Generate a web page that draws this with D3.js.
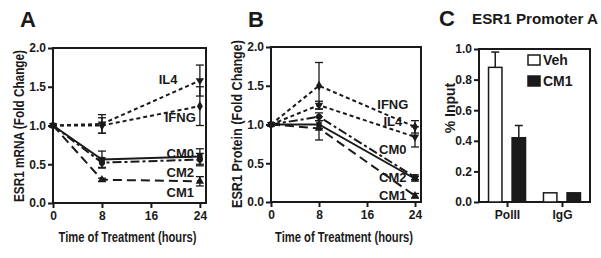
<!DOCTYPE html>
<html>
<head>
<meta charset="utf-8">
<script src="https://cdn.jsdelivr.net/npm/d3@7"></script>
<style>
  body { margin: 0; background: #fff; }
  svg { display: block; font-family: "Liberation Sans", Arial, sans-serif; font-weight: bold; }
</style>
</head>
<body>
<div id="chart"></div>
<script>
// time points (hours)
const hours = [0, 8, 24];
const hourTicks = [0, 8, 16, 24];
const foldTicks = [0, 0.5, 1.0, 1.5, 2.0];

// Panel A: ESR1 mRNA fold change
const mrnaIL4 = [1.0, 1.02, 1.58], mrnaIL4Err = [0, 0.12, 0.2];
const mrnaIFNG = [1.0, 1.0, 1.25], mrnaIFNGErr = [0, 0.1, 0.25];
const mrnaCM0 = [1.0, 0.56, 0.6], mrnaCM0Err = [0, 0.11, 0.1];
const mrnaCM2 = [1.0, 0.52, 0.56], mrnaCM2Err = [0, 0.06, 0.08];
const mrnaCM1 = [1.0, 0.3, 0.28], mrnaCM1Err = [0, 0.02, 0.06];
const mrnaLabelX = [18.8, 20.8, 20.8, 20.8, 20.8];
const mrnaLabelY = [1.6, 1.1, 0.64, 0.4, 0.14];

// Panel B: ESR1 protein fold change
const protIFNG = [1.0, 1.5, 0.97], protIFNGErr = [0, 0.3, 0.08];
const protIL4 = [1.0, 1.25, 0.84], protIL4Err = [0, 0.05, 0.13];
const protCM0 = [1.0, 1.0, 0.3], protCM0Err = [0, 0.05, 0.03];
const protCM2 = [1.0, 1.1, 0.32], protCM2Err = [0, 0.05, 0.03];
const protCM1 = [1.0, 0.95, 0.08], protCM1Err = [0, 0.15, 0.03];
const protLabelX = [20.3, 20.3, 20.3, 20.3, 20.3];
const protLabelY = [1.26, 1.04, 0.68, 0.32, 0.08];

// Panel C: ChIP % input
const chipTargets = ["PolII", "IgG"];
const chipGroups = ["Veh", "CM1"];
const chipVeh = [0.88, 0.06], chipVehErr = [0.1, 0];
const chipCM1 = [0.42, 0.06], chipCM1Err = [0.08, 0];
const chipTicks = [0, 0.2, 0.4, 0.6, 0.8, 1.0];

// per-series look
const seriesStyle = {
  IL4:  { dash: "4,3", symbol: d3.symbolTriangle, rot: 180 },
  IFNG: { dash: "4,3", symbol: d3.symbolDiamond, rot: 0 },
  CM0:  { dash: null, symbol: d3.symbolSquare, rot: 0 },
  CM2:  { dash: "9,3,3,3", symbol: d3.symbolCircle, rot: 0 },
  CM1:  { dash: "9,5", symbol: d3.symbolTriangle, rot: 0 }
};

const svg = d3.select("#chart").append("svg")
  .attr("width", 601).attr("height", 258);

const ink = "#1a1a1a";

function styleAxis(a) {
  a.select(".domain").remove();
  a.selectAll("line").attr("stroke", ink).attr("stroke-width", 2);
  a.selectAll("text").attr("fill", ink).style("font-size", "12px").style("font-weight", "bold")
    .style("font-family", "'Liberation Sans', Arial, sans-serif");
}

function drawLinePanel(o) {
  const x = d3.scaleLinear().domain([0, 25]).range([o.left, o.right]);
  const y = d3.scaleLinear().domain([0, 2]).range([o.bottom, o.top]);
  const g = svg.append("g");

  // frame
  g.append("rect")
    .attr("x", o.left).attr("y", o.top)
    .attr("width", o.right - o.left).attr("height", o.bottom - o.top)
    .attr("fill", "none").attr("stroke", ink).attr("stroke-width", 2);

  styleAxis(g.append("g").attr("transform", `translate(0,${o.bottom})`)
    .call(d3.axisBottom(x).tickValues(hourTicks).tickSize(5).tickPadding(3)));
  styleAxis(g.append("g").attr("transform", `translate(${o.left},0)`)
    .call(d3.axisLeft(y).tickValues(foldTicks).tickFormat(d3.format(".1f")).tickSize(5).tickPadding(2)));

  const line = d3.line().x((d, i) => x(hours[i])).y(d => y(d));

  o.series.forEach((s, k) => {
    const st = seriesStyle[s.name];
    g.append("path")
      .datum(s.values)
      .attr("fill", "none").attr("stroke", ink).attr("stroke-width", 2)
      .attr("stroke-dasharray", st.dash)
      .attr("d", line);

    // error bars
    s.values.forEach((v, i) => {
      const e = s.err[i];
      if (!e) return;
      const cx = x(hours[i]);
      g.append("line").attr("x1", cx).attr("x2", cx).attr("y1", y(v - e)).attr("y2", y(v + e))
        .attr("stroke", ink).attr("stroke-width", 1.3);
      [v - e, v + e].forEach(t => g.append("line")
        .attr("x1", cx - 4).attr("x2", cx + 4).attr("y1", y(t)).attr("y2", y(t))
        .attr("stroke", ink).attr("stroke-width", 1.3));
    });

    g.selectAll(null).data(s.values).join("path")
      .attr("d", d3.symbol(st.symbol, 30))
      .attr("transform", (d, i) => `translate(${x(hours[i])},${y(d)}) rotate(${st.rot})`)
      .attr("fill", ink);

    g.append("text")
      .attr("x", x(o.labelX[k])).attr("y", y(o.labelY[k]))
      .attr("text-anchor", "middle").attr("dominant-baseline", "central")
      .attr("fill", ink).style("font-size", "13px")
      .text(s.name);
  });

  g.append("text")
    .attr("x", (o.left + o.right) / 2 - 2).attr("y", 242)
    .attr("text-anchor", "middle").attr("fill", ink).style("font-size", "15px")
    .attr("textLength", 138).attr("lengthAdjust", "spacingAndGlyphs")
    .text("Time of Treatment (hours)");

  g.append("text")
    .attr("transform", `translate(${o.yTitleX},${o.yTitleY}) rotate(-90)`)
    .attr("text-anchor", "middle").attr("fill", ink).style("font-size", "14px")
    .attr("textLength", o.yTitleLen).attr("lengthAdjust", "spacingAndGlyphs")
    .text(o.yTitle);

  g.append("text").attr("x", o.letterX).attr("y", 27)
    .attr("fill", ink).style("font-size", "22px").text(o.letter);
}

drawLinePanel({
  left: 53, right: 206, top: 48, bottom: 203,
  letter: "A", letterX: 20,
  yTitle: "ESR1 mRNA (Fold Change)", yTitleX: 24, yTitleY: 126, yTitleLen: 152,
  labelX: mrnaLabelX, labelY: mrnaLabelY,
  series: [
    { name: "IL4", values: mrnaIL4, err: mrnaIL4Err },
    { name: "IFNG", values: mrnaIFNG, err: mrnaIFNGErr },
    { name: "CM0", values: mrnaCM0, err: mrnaCM0Err },
    { name: "CM2", values: mrnaCM2, err: mrnaCM2Err },
    { name: "CM1", values: mrnaCM1, err: mrnaCM1Err }
  ]
});

drawLinePanel({
  left: 271, right: 421, top: 47, bottom: 202,
  letter: "B", letterX: 248,
  yTitle: "ESR1 Protein (Fold Change)", yTitleX: 242, yTitleY: 124, yTitleLen: 168,
  labelX: protLabelX, labelY: protLabelY,
  series: [
    { name: "IFNG", values: protIFNG, err: protIFNGErr },
    { name: "IL4", values: protIL4, err: protIL4Err },
    { name: "CM0", values: protCM0, err: protCM0Err },
    { name: "CM2", values: protCM2, err: protCM2Err },
    { name: "CM1", values: protCM1, err: protCM1Err }
  ]
});

// Panel C
(function () {
  const left = 479, right = 590, top = 49, bottom = 202;
  const x = d3.scalePoint().domain(chipTargets).range([left, right]).padding(0.51);
  const xs = d3.scaleBand().domain(chipGroups).range([-18.5, 18.5]).paddingInner(0.43);
  const y = d3.scaleLinear().domain([0, 1]).range([bottom, top]);
  const g = svg.append("g");

  g.append("rect").attr("x", left).attr("y", top)
    .attr("width", right - left).attr("height", bottom - top)
    .attr("fill", "none").attr("stroke", ink).attr("stroke-width", 2);

  styleAxis(g.append("g").attr("transform", `translate(0,${bottom})`)
    .call(d3.axisBottom(x).tickSize(5).tickPadding(3)));
  styleAxis(g.append("g").attr("transform", `translate(${left},0)`)
    .call(d3.axisLeft(y).tickValues(chipTicks).tickFormat(d3.format(".1f")).tickSize(5).tickPadding(2)));

  const groups = [
    { name: "Veh", values: chipVeh, err: chipVehErr, fill: "#fff" },
    { name: "CM1", values: chipCM1, err: chipCM1Err, fill: ink }
  ];
  groups.forEach(gr => {
    gr.values.forEach((v, i) => {
      const bx = x(chipTargets[i]) + xs(gr.name);
      const cx = bx + xs.bandwidth() / 2;
      if (gr.err[i]) {
        g.append("line").attr("x1", cx).attr("x2", cx).attr("y1", y(v)).attr("y2", y(v + gr.err[i]))
          .attr("stroke", ink).attr("stroke-width", 1.5);
        g.append("line").attr("x1", cx - 4).attr("x2", cx + 4)
          .attr("y1", y(v + gr.err[i])).attr("y2", y(v + gr.err[i]))
          .attr("stroke", ink).attr("stroke-width", 1.5);
      }
      g.append("rect").attr("x", bx).attr("y", y(v))
        .attr("width", xs.bandwidth()).attr("height", y(0) - y(v))
        .attr("fill", gr.fill).attr("stroke", ink).attr("stroke-width", 1.5);
    });
  });

  // legend
  groups.forEach((gr, i) => {
    g.append("rect").attr("x", 528).attr("y", 55 + i * 21).attr("width", 12).attr("height", 10)
      .attr("fill", gr.fill).attr("stroke", ink).attr("stroke-width", 1.5);
    g.append("text").attr("x", 543).attr("y", 65 + i * 21)
      .attr("fill", ink).style("font-size", "14px").text(gr.name);
  });

  g.append("text")
    .attr("transform", `translate(455,108) rotate(-90)`)
    .attr("text-anchor", "middle").attr("fill", ink).style("font-size", "14px")
    .text("% Input");

  g.append("text").attr("x", 439).attr("y", 26)
    .attr("fill", ink).style("font-size", "22px").text("C");
  g.append("text").attr("x", 472).attr("y", 24)
    .attr("fill", ink).style("font-size", "15px")
    .attr("textLength", 126).attr("lengthAdjust", "spacingAndGlyphs")
    .text("ESR1 Promoter A");
})();
</script>
</body>
</html>
